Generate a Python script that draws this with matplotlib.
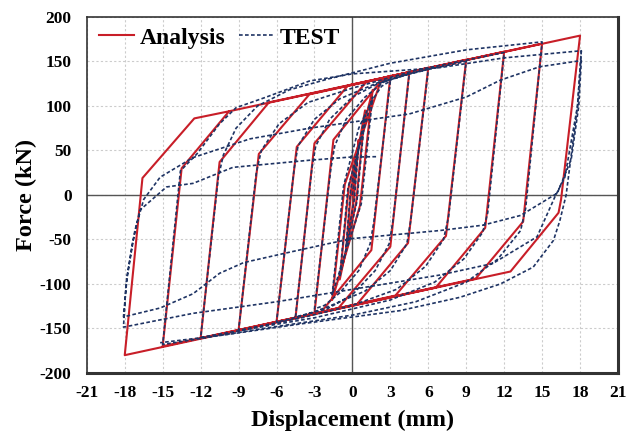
import matplotlib
matplotlib.use("Agg")
import matplotlib.pyplot as plt
from matplotlib.ticker import FuncFormatter

plt.rcParams['font.family'] = ['Liberation Serif', 'DejaVu Serif']
plt.rcParams['font.weight'] = 'bold'
plt.rcParams['axes.unicode_minus'] = False

# analysis curve (piecewise linear hysteresis)
analysis_disp = [0.0,
                 0.5, 0.1, -0.5, -0.1,
                 1.0, 0.3, -1.0, -0.3,
                 1.6, 0.6, -1.6, -0.6,
                 2.2, 3.0, 1.5, -2.5, -3.0,
                 -1.5, 2.5, 4.5, 3.0, -1.1, -4.5,
                 -3.0, 1.1, 6.0, 4.4, 0.35, -6.0,
                 -4.4, -0.35, 9.0, 7.4, 3.4, -9.0,
                 -7.4, -3.4, 12.0, 10.5, 6.6, -12.0,
                 -10.5, -6.6, 15.0, 13.5, 9.75, -15.0,
                 -13.5, -9.75, 18.0, 16.5, 16.3, 12.5, -18.0,
                 -16.6, -12.5, -9.75]
analysis_force = [0,
                  62, -6, -62, 6,
                  95, -8, -95, 8,
                  118, -12, -118, 12,
                  126, 133, -62, -132, -133,
                  62, 132, 138, -58, -127, -138,
                  58, 127, 143, -54, -123, -143,
                  54, 123, 152, -46, -113, -152,
                  46, 113, 161, -37, -104, -161,
                  37, 104, 170, -30, -94, -170,
                  30, 94, 179, -5, -20, -86, -180,
                  19, 86, 94]

# test curve, main path
test_disp = [0.0, 0.5, 0.15, -0.5, -0.15,
             1.0, 0.35, -1.0, -0.35,
             1.6, 0.7, -1.6, -0.7,
             0.5, 1.5, 2.3, 3.0,
             1.7, 1.4, 0.5, -1.0, -2.2, -3.0,
             -1.7, -1.4, -0.5, 1.0, 2.5, 4.5,
             3.2, 2.9, 1.8, 0.0, -2.0, -4.5,
             -3.2, -2.9, -1.8, 0.0, 2.0, 4.0, 6.0,
             4.6, 4.3, 3.0, 1.0, -2.0, -4.0, -6.0,
             -4.6, -4.3, -3.0, -1.0, 2.0, 5.0, 9.0,
             7.6, 7.2, 5.8, 3.5, 0.0, -4.0, -9.0,
             -7.6, -7.2, -5.8, -3.5, 0.0, 5.0, 12.0,
             10.7, 10.3, 8.8, 6.5, 3.0, -3.0, -12.0,
             -10.6, -10.2, -9.2, -7.5, -5.0, -2.0, 3.0, 9.0, 15.0,
             13.7, 13.3, 11.5, 9.0, 5.0, 0.0, -7.0, -15.0,
             -13.8, -13.6, -12.3, -10.5, -9.2, -6.8, -3.4, 0.0, 6.9, 12.0, 18.1,
             17.8, 16.8, 16.0, 14.6, 11.1, 6.9, 0.0, -6.0, -12.6, -18.1,
             -17.9, -17.2, -16.5, -15.2, -12.6, -8.1, -3.4, 4.5, 9.0, 11.7, 14.8, 18.1,
             17.9, 17.3, 16.2, 13.3, 10.3, 6.9, 0.0, -2.0, -5.5, -8.6, -10.5, -12.6, -15.2, -18.1,
             -17.8, -17.4, -16.8, -14.7, -12.6, -9.45, -3.4, -0.2, 1.9]
test_force = [0, 55, -5, -58, 5,
              90, -8, -92, 8,
              110, -10, -112, 10,
              75, 105, 122, 128,
              -30, -55, -85, -110, -124, -128,
              30, 55, 85, 110, 127, 136,
              -30, -55, -85, -112, -128, -137,
              30, 55, 85, 110, 125, 134, 141,
              -30, -55, -85, -108, -126, -136, -143,
              30, 55, 85, 108, 126, 138, 150,
              -25, -50, -80, -106, -124, -138, -152,
              25, 50, 80, 104, 120, 140, 160,
              -20, -42, -72, -98, -118, -138, -160,
              20, 45, 75, 100, 118, 130, 148, 163, 172,
              -15, -40, -72, -98, -120, -135, -150, -168,
              0, 27, 46, 80, 98, 110, 128, 136, 143, 154, 162,
              100, 20, -2.5, -47, -77, -90, -106, -120, -133, -148.5,
              -100, -40, -5, 20, 42, 63, 75, 91, 110, 129, 144, 151,
              100, 40, 2, -23, -34, -40, -49, -55, -66, -76, -88, -111, -127, -137,
              -90, -55, -17, 9, 13, 31, 39, 42.5, 43]

# test curve, outer branch leaving the +18 mm peak
test_outer_disp = [18.1, 17.8, 16.9, 16.4, 15.9, 14.3, 11.7, 8.5, 3.75, -4.15, -10.0, -15.2]
test_outer_force = [162, 100, 0, -29, -51, -81, -100, -115, -130, -145, -157, -166]

x_ticks = list(range(-21, 22, 3))
y_ticks = list(range(-200, 201, 50))

fig = plt.figure(figsize=(6.29, 4.34), dpi=100)
ax = fig.add_axes([0.138, 0.1406, 0.8445, 0.8204])

ax.plot(analysis_disp, analysis_force, color='#c81e28', linewidth=1.5,
        label='Analysis', zorder=3)
ax.plot(test_disp, test_force, color='#1f3464', linewidth=1.2,
        linestyle=(0, (2.2, 1.4)), label='TEST', zorder=4)
ax.plot(test_outer_disp, test_outer_force, color='#1f3464', linewidth=1.2,
        linestyle=(0, (2.2, 1.4)), zorder=4)

ax.axhline(0, color='#555555', linewidth=1.0, zorder=2)
ax.axvline(0, color='#555555', linewidth=1.0, zorder=2)

ax.set_xlim(-21, 21)
ax.set_ylim(-200, 200)
ax.set_xticks(x_ticks)
ax.set_yticks(y_ticks)
ax.xaxis.set_major_formatter(FuncFormatter(lambda v, p: '%d' % v))
ax.yaxis.set_major_formatter(FuncFormatter(lambda v, p: '%d' % v))
ax.grid(True, color='#cccccc', linestyle=(0, (2, 2)), linewidth=0.8, zorder=1)
ax.set_axisbelow(True)

ax.tick_params(axis='both', length=0, labelsize=12.5)
ax.tick_params(axis='x', pad=9)
ax.tick_params(axis='y', pad=11)
for lbl in ax.get_xticklabels() + ax.get_yticklabels():
    lbl.set_fontweight('bold')

for side in ['top', 'left']:
    ax.spines[side].set_linewidth(1.2)
    ax.spines[side].set_color('#333333')
for side in ['right', 'bottom']:
    ax.spines[side].set_linewidth(2.2)
    ax.spines[side].set_color('#333333')

ax.set_xlabel('Displacement (mm)', fontsize=17.5, fontweight='bold', labelpad=6)
ax.set_ylabel('Force (kN)', fontsize=17.5, fontweight='bold', labelpad=2)

ax.legend(loc='center left', bbox_to_anchor=(0.0, 0.941), ncol=2, frameon=False,
          prop={'size': 17, 'weight': 'bold'}, handlelength=1.5,
          handletextpad=0.25, columnspacing=0.55, borderaxespad=0.3,
          borderpad=0.2)

fig.savefig('out.png', dpi=100)
